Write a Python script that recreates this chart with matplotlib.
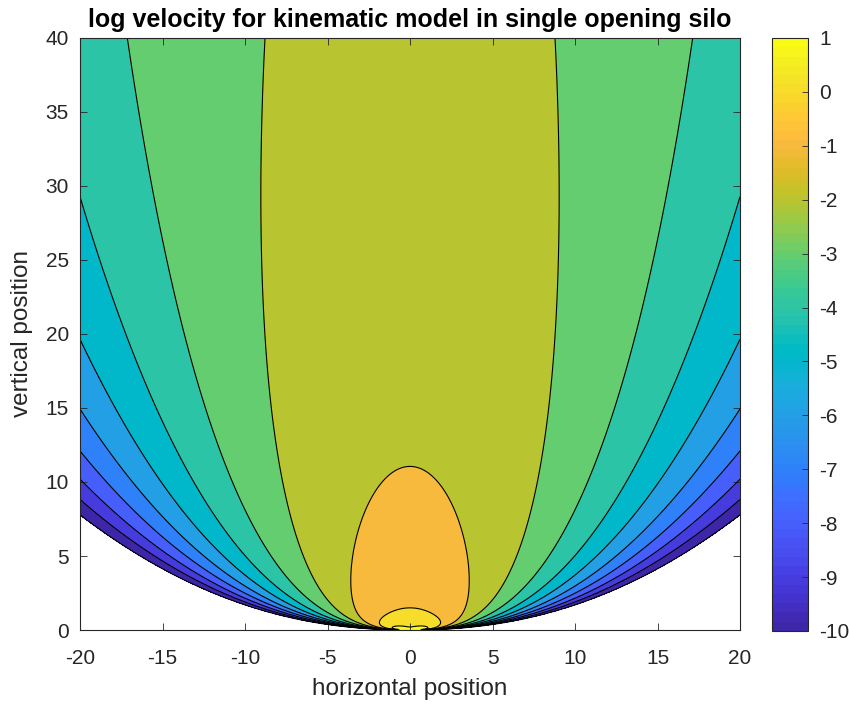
import numpy as np
import matplotlib
matplotlib.use("Agg")
import matplotlib.pyplot as plt
from matplotlib.colors import ListedColormap, Normalize

plt.rcParams['font.family'] = ['Liberation Sans', 'DejaVu Sans']
plt.rcParams['axes.unicode_minus'] = False

# parula colormap (64 entries)
parula_data = [
    [0.2422, 0.1504, 0.6603], [0.2504, 0.1650, 0.7076], [0.2578, 0.1818, 0.7511],
    [0.2647, 0.1978, 0.7952], [0.2706, 0.2147, 0.8364], [0.2751, 0.2342, 0.8710],
    [0.2783, 0.2559, 0.8991], [0.2803, 0.2782, 0.9221], [0.2813, 0.3006, 0.9414],
    [0.2810, 0.3228, 0.9579], [0.2795, 0.3447, 0.9717], [0.2760, 0.3667, 0.9829],
    [0.2699, 0.3892, 0.9906], [0.2602, 0.4123, 0.9952], [0.2440, 0.4358, 0.9988],
    [0.2206, 0.4603, 0.9973], [0.1963, 0.4847, 0.9892], [0.1834, 0.5074, 0.9798],
    [0.1786, 0.5289, 0.9682], [0.1764, 0.5499, 0.9520], [0.1687, 0.5703, 0.9359],
    [0.1540, 0.5902, 0.9218], [0.1460, 0.6091, 0.9079], [0.1380, 0.6276, 0.8973],
    [0.1248, 0.6459, 0.8883], [0.1113, 0.6635, 0.8763], [0.0952, 0.6798, 0.8598],
    [0.0689, 0.6948, 0.8394], [0.0297, 0.7082, 0.8163], [0.0036, 0.7203, 0.7917],
    [0.0067, 0.7312, 0.7660], [0.0433, 0.7411, 0.7394], [0.0964, 0.7500, 0.7120],
    [0.1408, 0.7584, 0.6842], [0.1717, 0.7670, 0.6554], [0.1938, 0.7758, 0.6251],
    [0.2161, 0.7843, 0.5923], [0.2470, 0.7918, 0.5567], [0.2906, 0.7973, 0.5188],
    [0.3406, 0.8008, 0.4789], [0.3909, 0.8029, 0.4354], [0.4456, 0.8024, 0.3909],
    [0.5044, 0.7993, 0.3480], [0.5616, 0.7942, 0.3045], [0.6174, 0.7876, 0.2612],
    [0.6720, 0.7793, 0.2227], [0.7242, 0.7698, 0.1910], [0.7738, 0.7598, 0.1646],
    [0.8203, 0.7498, 0.1535], [0.8634, 0.7406, 0.1596], [0.9035, 0.7330, 0.1774],
    [0.9393, 0.7288, 0.2100], [0.9728, 0.7298, 0.2394], [0.9956, 0.7434, 0.2371],
    [0.9970, 0.7659, 0.2199], [0.9952, 0.7893, 0.2028], [0.9892, 0.8136, 0.1885],
    [0.9786, 0.8386, 0.1766], [0.9676, 0.8639, 0.1643], [0.9610, 0.8890, 0.1537],
    [0.9597, 0.9135, 0.1423], [0.9628, 0.9373, 0.1265], [0.9691, 0.9606, 0.1064],
    [0.9769, 0.9839, 0.0805],
]
parula = ListedColormap(parula_data, name="parula").resampled(256)

# kinematic model parameters
flow_rate = 5.0          # Q
diffusion_length = 1.33  # B
x_range = (-20, 20)
z_range = (0, 40)
levels = list(range(-10, 2))
cbar_ticks = list(range(-10, 2))
x_ticks = [-20, -15, -10, -5, 0, 5, 10, 15, 20]
z_ticks = [0, 5, 10, 15, 20, 25, 30, 35, 40]

x = np.linspace(x_range[0], x_range[1], 801)
z = np.linspace(0.02, z_range[1], 1000)
X, Z = np.meshgrid(x, z)
# vertical velocity and the horizontal velocity derived from it (u = B dv/dx)
v_vert = flow_rate / np.sqrt(4 * np.pi * diffusion_length * Z) * np.exp(-X**2 / (4 * diffusion_length * Z))
v_horz = -X / (2 * Z) * v_vert
speed = np.hypot(v_vert, v_horz)
with np.errstate(divide='ignore'):
    log_speed = np.log(speed)

vmin, vmax = levels[0], levels[-1]
norm = Normalize(vmin=vmin, vmax=vmax)
fill_levels = levels + [1e6]
fill_colors = [parula(norm(lv)) for lv in levels]

fig = plt.figure(figsize=(8.49, 7.09), dpi=100)
ax = fig.add_axes([80/849, 1 - 630/709, 660/849, 592/709])
ax.contourf(X, Z, log_speed, levels=fill_levels, colors=fill_colors)
ax.contour(X, Z, log_speed, levels=levels, colors='k', linewidths=0.8,
           linestyles='solid')

ax.set_xlim(*x_range)
ax.set_ylim(*z_range)
ax.set_xticks(x_ticks)
ax.set_yticks(z_ticks)
gray = (0.15, 0.15, 0.15)
ax.tick_params(direction='in', top=True, right=True, length=5, width=0.6,
               colors=gray, labelsize=15)
ax.tick_params(axis='x', pad=14)
ax.tick_params(axis='y', pad=8)
for s in ax.spines.values():
    s.set_color(gray)
    s.set_linewidth(0.8)
ax.set_xlabel('horizontal position', fontsize=17.5, color=gray, labelpad=7)
ax.set_ylabel('vertical position', fontsize=17.5, color=gray, labelpad=9)
ax.set_title('log velocity for kinematic model in single opening silo',
             fontsize=18, fontweight='bold', pad=8)

cax = fig.add_axes([772/849, 1 - 631/709, 36/849, 593/709])
sm = matplotlib.cm.ScalarMappable(norm=norm, cmap=parula)
cb = fig.colorbar(sm, cax=cax, ticks=cbar_ticks)
cb.outline.set_edgecolor(gray)
cb.outline.set_linewidth(0.8)
cax.tick_params(direction='in', length=4, width=0.6, colors=gray, labelsize=15, pad=8)

fig.savefig('out.png', dpi=100)
